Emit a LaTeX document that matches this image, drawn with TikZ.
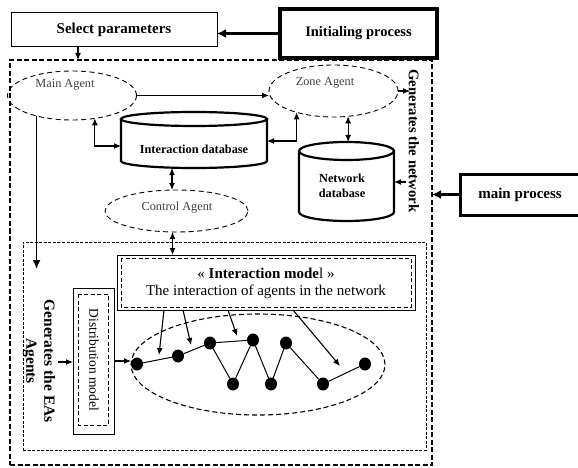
\documentclass[tikz,border=0pt]{standalone}
\usepackage{fontspec}
\setmainfont{Liberation Serif}
\usetikzlibrary{shapes.geometric,arrows.meta,calc}

% cylinder outline around a node: #1 node, #2 half width, #3 cap radius
\newcommand{\cylbody}[3]{%
  \draw[cyl] ([yshift=-#3]#1.north west) -- ([yshift=#3]#1.south west)
    arc[start angle=180,end angle=360,x radius=#2,y radius=#3]
    -- ([yshift=-#3]#1.north east);
  \draw[cyl] ([yshift=-#3]#1.north) ellipse[x radius=#2,y radius=#3];
}

\begin{document}
\begin{tikzpicture}[x=1pt,y=-1pt,
  every node/.style={inner sep=0pt,outer sep=0pt},
  arr/.style={line width=1.1pt,-{Latex[length=7pt,width=6pt]}},
  dbl/.style={line width=1.1pt,{Latex[length=7pt,width=6pt]}-{Latex[length=7pt,width=6pt]}},
  heavyarr/.style={line width=2.6pt,-{Latex[length=9pt,width=9pt]}},
  downarr/.style={line width=1.8pt,-{Latex[length=9pt,width=8pt]}},
  agent/.style={ellipse,draw,line width=0.9pt,dash pattern=on 5pt off 3.5pt},
  agenttxt/.style={font=\fontsize{12.3}{14}\selectfont,text=black!75},
  boldlbl/.style={font=\fontsize{15}{17}\selectfont\bfseries},
  dbtxt/.style={font=\fontsize{12.3}{15}\selectfont\bfseries,align=center},
  cyl/.style={line width=2.2pt},
  dot/.style={ellipse,fill,minimum width=12pt,minimum height=13pt},
  edge/.style={line width=1pt}
]
\clip (0,0) rectangle (578,468);

% process boxes
\node[draw,line width=1pt,minimum width=206pt,minimum height=34pt,boldlbl] (sp) at (114,30) {Select parameters};
\node[draw,line width=3.5pt,minimum width=157pt,minimum height=49pt,font=\fontsize{14.5}{17}\selectfont\bfseries] (ip) at (358.5,33.5) {Initialing process};
\node[draw,line width=3pt,minimum width=120pt,minimum height=41pt,boldlbl] (mp) at (520,194.5) {main process};

% frames
\node[draw,line width=1.6pt,dash pattern=on 5pt off 2.5pt,minimum width=422pt,minimum height=405pt] (outer) at (221,262.5) {};
\node[draw,line width=0.8pt,dash pattern=on 3pt off 1.5pt,minimum width=403pt,minimum height=208pt] (inner) at (224.5,346) {};

% agents
\node[agent,minimum width=129pt,minimum height=49pt] (ma) at (72,95.5) {};
\node[agenttxt] (malbl) at (65,85) {Main Agent};
\node[agent,minimum width=129pt,minimum height=52pt] (za) at (333.5,91) {};
\node[agenttxt] (zalbl) at (325,83) {Zone Agent};
\node[agent,minimum width=143pt,minimum height=42pt] (ca) at (176.5,211) {};
\node[agenttxt] (calbl) at (177,208) {Control Agent};

% databases
\node[minimum width=146pt,minimum height=56pt] (idb) at (194,140) {};
\cylbody{idb}{73pt}{7pt}
\node[dbtxt] (idbt) at (194,149) {Interaction database};
\node[minimum width=95pt,minimum height=79pt] (ndb) at (346.5,181.5) {};
\cylbody{ndb}{47.5pt}{9pt}
\node[dbtxt] (ndbt) at (342,185.5) {Network\\database};

% side labels
\node[font=\fontsize{14.7}{17}\selectfont\bfseries,rotate=-90] (gnet) at (414,141) {Generates the network};
\node[font=\fontsize{15.5}{18}\selectfont\bfseries,rotate=-90,align=center] (geas) at (39,361) {Generates the EAs\\Agents};

% distribution model
\node[draw,line width=1pt,minimum width=41pt,minimum height=146pt] (dm) at (93.5,361) {};
\draw[line width=1pt,dash pattern=on 4pt off 2.5pt] ([shift={(5pt,-6pt)}]dm.north west) rectangle ([shift={(-6pt,9pt)}]dm.south east);
\node[font=\fontsize{13.5}{15}\selectfont,rotate=-90] (dmlbl) at (94,360) {Distribution model};

% interaction model
\node[draw,line width=1pt,minimum width=298pt,minimum height=55pt] (im) at (266,282.5) {};
\draw[line width=1pt,dash pattern=on 4pt off 2.5pt] ([shift={(4pt,-3pt)}]im.north west) rectangle ([shift={(-4pt,3pt)}]im.south east);
\node[font=\fontsize{15}{17}\selectfont] (imt1) at (266,273) {« \textbf{Interaction mode}l »};
\node[font=\fontsize{15}{17}\selectfont] (imt2) at (266,292) {The interaction of agents in the network};

% agent network
\node[ellipse,draw,line width=1.1pt,dash pattern=on 5pt off 3pt,minimum width=254pt,minimum height=101pt] (cloud) at (258,364.5) {};
\node[dot] (n1) at (137,364) {};
\node[dot] (n2) at (178,356) {};
\node[dot] (n3) at (210,343) {};
\node[dot] (n4) at (253,340) {};
\node[dot] (n5) at (286,343) {};
\node[dot] (n6) at (233,384) {};
\node[dot] (n7) at (271,384) {};
\node[dot] (n8) at (323,384) {};
\node[dot] (n9) at (365,364) {};
\draw[edge] (n1) -- (n2) -- (n3) -- (n4);
\draw[edge] (n3) -- (n6) -- (n4) -- (n7) -- (n5) -- (n8) -- (n9);

% free ends
\coordinate (znet) at (410,91);
\coordinate (nin) at (406,182);
\coordinate (mdn) at (0,269);
\coordinate (dmin) at (58,362);
\coordinate (ta) at (159,355);
\coordinate (tb) at (191,345);
\coordinate (tc) at (237,336);
\coordinate (td) at (340,366);

% connectors
\draw[heavyarr] (ip.west) -- (ip.west -| sp.east);
\draw[heavyarr] (mp.west) -- (mp.west -| outer.east);
\draw[arr] ([xshift=-36pt]sp.south) -- ([xshift=-36pt]sp.south |- outer.north);
\draw[arr] (ma.east) -- (ma.east -| za.west);
\draw[arr] (za.east) -- (znet);
\draw[arr] (nin) -- (nin -| ndb.east);
\draw[dbl] (ma.-45) |- ([yshift=-6pt]idb.west);
\draw[dbl] (za.-150) |- ([yshift=-1pt]idb.east);
\draw[dbl] (za.-60) -- (za.-60 |- ndb.north);
\draw[dbl] ([xshift=-22pt]idb.south) -- ([xshift=-22pt]idb.south |- ca.north);
\draw[dbl] ([xshift=-4pt]ca.south) -- ([xshift=-4pt]ca.south |- im.north);
\draw[downarr] (ma.-150) -- (ma.-150 |- mdn);
\draw[arr] (dmin) -- (dmin -| dm.west);
\draw[arr] (dm.east) -- (dm.east -| n1.west);
\draw[arr] ([xshift=-102pt]im.south) -- (ta);
\draw[arr] ([xshift=-83pt]im.south) -- (tb);
\draw[arr] ([xshift=-38pt]im.south) -- (tc);
\draw[arr] ([xshift=27pt]im.south) -- (td);
\end{tikzpicture}
\end{document}
